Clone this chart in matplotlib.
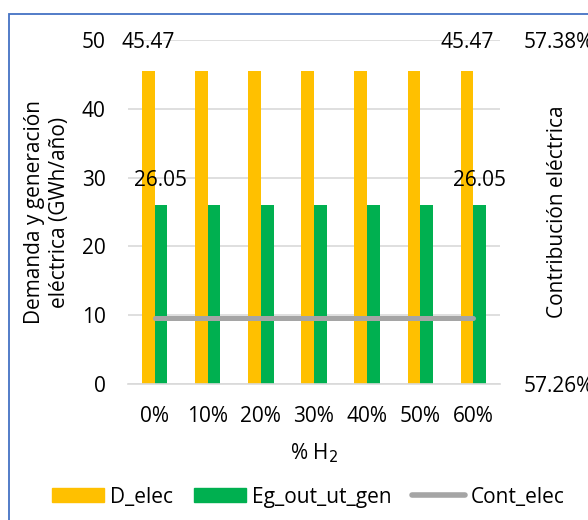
import matplotlib.pyplot as plt
import numpy as np
from matplotlib.patches import Rectangle
from matplotlib.lines import Line2D
from matplotlib.patches import Patch

# datos del gráfico
categorias = ['0%', '10%', '20%', '30%', '40%', '50%', '60%']
d_elec = [45.47, 45.47, 45.47, 45.47, 45.47, 45.47, 45.47]
eg_out_ut_gen = [26.05, 26.05, 26.05, 26.05, 26.05, 26.05, 26.05]
cont_elec = [57.283, 57.283, 57.283, 57.283, 57.283, 57.283, 57.283]  # en %

plt.rcParams['font.family'] = ['Open Sans', 'DejaVu Sans']
fs = 15

fig = plt.figure(figsize=(5.88, 5.20), dpi=100)
ax = fig.add_axes([128 / 588, 1 - 384 / 520, 372 / 588, 344 / 520])

x = np.arange(len(categorias))
w = 0.24
ax.bar(x - w / 2, d_elec, w, color='#FFC000', label='D_elec', zorder=2)
ax.bar(x + w / 2, eg_out_ut_gen, w, color='#00B050', label='Eg_out_ut_gen', zorder=2)

ax.set_xlim(-0.5, len(categorias) - 0.5)
ax.set_ylim(0, 50)
ax.set_yticks([0, 10, 20, 30, 40, 50])
ax.set_xticks(x)
ax.set_xticklabels(categorias)
ax.yaxis.grid(True, color='#D9D9D9', lw=1.2, zorder=0)
for s in ['top', 'left', 'right']:
    ax.spines[s].set_visible(False)
ax.spines['bottom'].set_color('#D9D9D9')
ax.spines['bottom'].set_linewidth(1.2)
ax.tick_params(axis='both', length=0, labelsize=fs, colors='#000000')
ax.tick_params(axis='y', pad=16)
ax.tick_params(axis='x', pad=16)
ax.set_xlabel('% H$_2$', fontsize=fs, va='center')
ax.xaxis.set_label_coords(0.5, (384 - 453) / 344)
ax.set_ylabel('Demanda y generación\neléctrica (GWh/año)', fontsize=fs, linespacing=1.25, va='center')
ax.yaxis.set_label_coords((47 - 128) / 372, 0.5)

# etiquetas de valor en primera y última categoría
for i in [0, len(categorias) - 1]:
    ax.text(x[i] - w / 2, d_elec[i] + 4.2, f'{d_elec[i]:.2f}', ha='center', va='center', fontsize=fs)
    ax.text(x[i] + w / 2, eg_out_ut_gen[i] + 3.6, f'{eg_out_ut_gen[i]:.2f}', ha='center', va='center', fontsize=fs)

# eje secundario: contribución eléctrica
ax2 = ax.twinx()
ax2.plot(x, cont_elec, color='#A5A5A5', lw=3.6, solid_capstyle='round', zorder=3)
ax2.set_ylim(57.26, 57.38)
ax2.set_yticks([57.26, 57.38])
ax2.set_yticklabels(['57.26%', '57.38%'])
for s in ['top', 'left', 'right', 'bottom']:
    ax2.spines[s].set_visible(False)
ax2.tick_params(axis='y', length=0, pad=17, labelsize=fs)
ax2.set_ylabel('Contribución eléctrica', fontsize=fs, va='center')
ax2.yaxis.set_label_coords((557 - 128) / 372, 0.5)

handles = [Patch(color='#FFC000'), Patch(color='#00B050'),
           Line2D([0], [0], color='#A5A5A5', lw=4, solid_capstyle='round')]
fig.legend(handles, ['D_elec', 'Eg_out_ut_gen', 'Cont_elec'], loc='center',
           bbox_to_anchor=(0.524, 1 - 497 / 520), ncol=3, frameon=False,
           handlelength=2.5, handleheight=0.63, handletextpad=0.3, columnspacing=1.0,
           fontsize=fs, borderaxespad=0)

# marco del gráfico
fig.patches.append(Rectangle((9 / 588, -0.1), 1.2, 1 - 14 / 520 + 0.1, transform=fig.transFigure,
                             fill=False, edgecolor='#4472C4', lw=1.3))

fig.savefig('out.png', dpi=100)
